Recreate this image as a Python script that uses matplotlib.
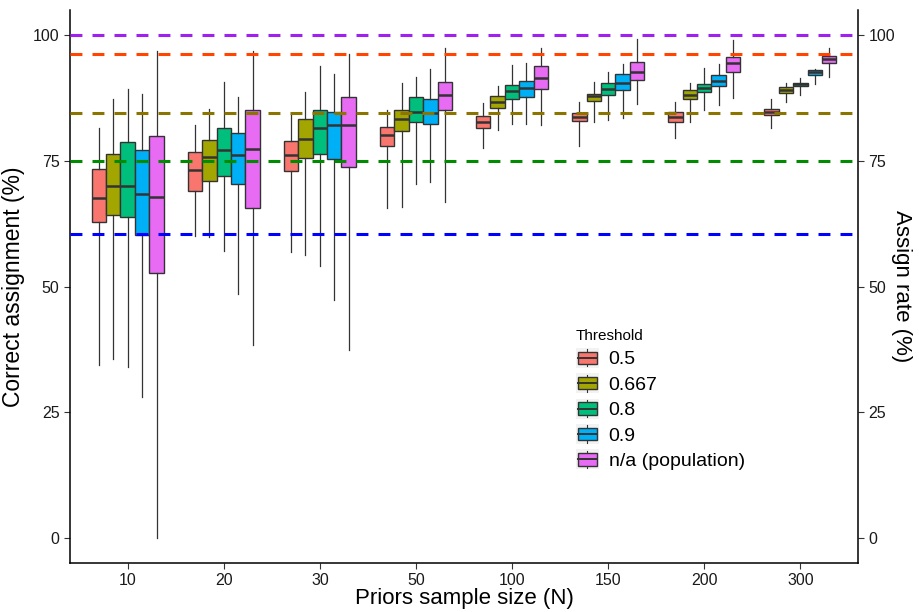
import matplotlib
matplotlib.use("Agg")
import matplotlib.pyplot as plt
from matplotlib.legend_handler import HandlerBase
from matplotlib.patches import Rectangle, Patch
from matplotlib.lines import Line2D

plt.rcParams['font.family'] = ['Liberation Sans', 'DejaVu Sans']

sizes = ['10', '20', '30', '50', '100', '150', '200', '300']
thresholds = ['0.5', '0.667', '0.8', '0.9', 'n/a (population)']
fills = ['#F8766D', '#A3A500', '#00BF7D', '#00B0F6', '#E76BF3']

# box summaries per threshold: (lower whisker, q1, median, q3, upper whisker), one per sample size
t050 = [(34.3, 62.9, 67.7, 73.4, 81.5), (60.0, 69.0, 73.2, 76.8, 82.1),
        (56.9, 73.0, 76.1, 79.0, 84.4), (65.6, 77.9, 80.2, 81.7, 85.1),
        (77.6, 81.5, 82.8, 83.9, 86.4), (78.0, 82.9, 83.7, 84.5, 86.6),
        (79.6, 82.7, 83.7, 84.7, 86.6), (81.5, 84.1, 84.7, 85.3, 87.2)]
t067 = [(35.5, 64.3, 70.0, 76.3, 87.2), (59.9, 71.0, 75.8, 79.2, 85.4),
        (56.2, 75.5, 79.3, 83.3, 88.7), (65.9, 81.0, 83.4, 85.2, 90.4),
        (81.2, 85.5, 86.7, 87.8, 89.9), (82.8, 86.9, 87.9, 88.3, 90.6),
        (82.8, 87.2, 88.0, 89.0, 90.4), (86.6, 88.4, 89.1, 89.6, 90.5)]
t080 = [(34.0, 63.8, 70.0, 78.8, 89.3), (57.1, 72.0, 77.1, 81.6, 90.7),
        (54.0, 76.3, 81.5, 85.2, 93.8), (70.3, 82.8, 84.8, 87.6, 91.7),
        (82.3, 87.2, 88.8, 90.0, 94.1), (83.1, 88.0, 89.3, 90.5, 92.7),
        (85.2, 88.6, 89.4, 90.3, 93.5), (88.0, 89.9, 90.2, 90.4, 91.5)]
t090 = [(28.0, 60.3, 68.3, 77.1, 88.2), (48.5, 70.3, 76.2, 80.6, 87.7),
        (47.4, 75.3, 82.1, 84.8, 92.2), (70.7, 82.4, 84.6, 87.3, 93.3),
        (82.3, 87.6, 89.4, 90.8, 94.4), (83.6, 89.1, 90.5, 92.2, 94.3),
        (86.1, 89.8, 90.9, 92.0, 94.2), (90.2, 92.0, 92.7, 93.1, 93.3)]
tpop = [(0.0, 52.6, 67.9, 79.9, 96.8), (38.4, 65.6, 77.3, 85.2, 96.8),
        (37.3, 73.8, 82.1, 87.6, 96.3), (66.8, 85.1, 88.0, 90.7, 97.4),
        (82.1, 89.2, 91.5, 93.9, 97.4), (86.3, 91.0, 92.7, 94.6, 99.3),
        (87.4, 92.7, 94.5, 95.7, 99.1), (91.7, 94.4, 95.3, 95.8, 97.4)]
series = [t050, t067, t080, t090, tpop]

# assign-rate reference levels and their colours
rates = [100.0, 96.2, 84.6, 74.9, 60.5]
rate_colors = ['#A020F0', '#FF4500', '#8B7500', '#008B00', '#0000FF']

edge = '#333333'


class BoxKey(HandlerBase):
    def create_artists(self, legend, orig_handle, xdescent, ydescent,
                       width, height, fontsize, trans):
        x0, y0 = -xdescent, -ydescent
        bg = Rectangle((x0, y0), width, height, facecolor='#F2F2F2',
                       edgecolor='none', transform=trans)
        bw, bh = width * 0.8, height * 0.62
        bx, by = x0 + (width - bw) / 2, y0 + (height - bh) / 2
        box = Rectangle((bx, by), bw, bh, facecolor=orig_handle.get_facecolor(),
                        edgecolor=edge, lw=1.0, transform=trans)
        cx = x0 + width / 2
        w1 = Line2D([cx, cx], [y0 + 1, by], color=edge, lw=0.8, transform=trans)
        w2 = Line2D([cx, cx], [by + bh, y0 + height - 1], color=edge, lw=0.8, transform=trans)
        med = Line2D([bx, bx + bw], [by + bh / 2] * 2, color=edge, lw=1.4, transform=trans)
        return [bg, w1, w2, box, med]


fig = plt.figure(figsize=(9.19, 6.12), dpi=100)
ax = fig.add_axes([0.0762, 0.080, 0.8574, 0.9037])

offsets = [-0.3, -0.15, 0.0, 0.15, 0.3]
for k, data in enumerate(series):
    stats = [dict(whislo=s[0], q1=s[1], med=s[2], q3=s[3], whishi=s[4], fliers=[])
             for s in data]
    pos = [i + 1 + offsets[k] for i in range(len(sizes))]
    ax.bxp(stats, positions=pos, widths=0.15, patch_artist=True, showcaps=False,
           boxprops=dict(facecolor=fills[k], edgecolor=edge, lw=1.0),
           medianprops=dict(color=edge, lw=1.8),
           whiskerprops=dict(color=edge, lw=0.9),
           manage_ticks=False, zorder=2)

for r, c in zip(rates, rate_colors):
    ax.axhline(r, color=c, lw=2.2, ls=(0, (3.9, 3.3)), zorder=3)

ax.set_xlim(0.4, len(sizes) + 0.6)
ax.set_ylim(-5, 105)
ax.set_xticks(range(1, len(sizes) + 1))
ax.set_xticklabels(sizes)
ax.set_yticks([0, 25, 50, 75, 100])
ax.tick_params(labelsize=11.5, length=4, color='#333333', labelcolor='#1A1A1A')
for s in ['top', 'right']:
    ax.spines[s].set_visible(False)
for s in ['left', 'bottom']:
    ax.spines[s].set_linewidth(1.1)
ax.set_xlabel('Priors sample size (N)', fontsize=16, labelpad=0)
ax.set_ylabel('Correct assignment (%)', fontsize=16.5, labelpad=6)

ax2 = ax.twinx()
ax2.set_ylim(-5, 105)
ax2.set_yticks([0, 25, 50, 75, 100])
ax2.tick_params(labelsize=11.5, length=4, color='#333333', labelcolor='#1A1A1A')
for s in ['top', 'left', 'bottom']:
    ax2.spines[s].set_visible(False)
ax2.spines['right'].set_linewidth(1.1)
ax2.set_ylabel('Assign rate (%)', fontsize=16, rotation=270, labelpad=12)

handles = [Patch(facecolor=f) for f in fills]
leg = ax.legend(handles, thresholds, title='Threshold', handler_map={Patch: BoxKey()},
                loc='upper left', bbox_to_anchor=(576 / 919, 1 - 329 / 612),
                bbox_transform=fig.transFigure, frameon=False, fontsize=14,
                title_fontsize=11, handlelength=1.18, handleheight=1.2,
                handletextpad=0.5, labelspacing=0.25, borderpad=0,
                borderaxespad=0, alignment='left')

fig.savefig('out.png', dpi=100)
